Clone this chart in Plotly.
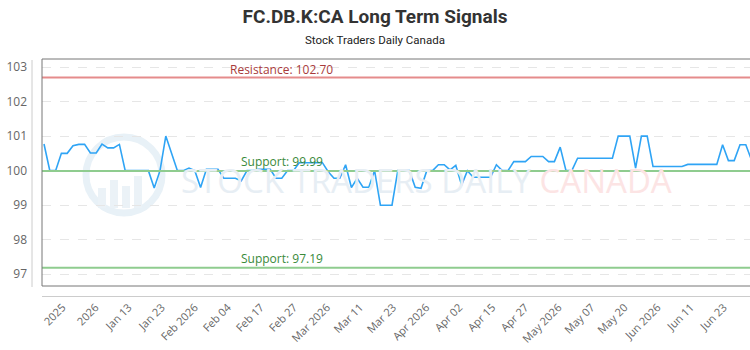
import plotly.graph_objects as go

# ---- data ----
values = [
    100.77, 100.0, 100.0, 100.5, 100.5, 100.72, 100.76, 100.76, 100.51, 100.51,
    100.77, 100.66, 100.66, 100.76, 100.0, 100.0, 100.0, 100.0, 100.0, 99.5,
    100.0, 101.0, 100.5, 100.0, 100.0, 100.07, 100.0, 99.51, 100.04, 100.04,
    100.04, 99.78, 99.78, 99.78, 99.7, 100.0, 100.0, 100.04, 100.04, 100.04,
    99.78, 99.78, 100.0, 100.0, 100.23, 100.23, 100.23, 100.23, 100.23, 99.97,
    99.78, 99.78, 100.17, 99.51, 99.78, 99.52, 99.52, 100.0, 99.0, 99.0,
    99.0, 100.0, 100.0, 100.0, 99.52, 99.49, 100.0, 100.0, 100.17, 100.17,
    100.02, 100.15, 99.58, 100.0, 99.81, 99.81, 99.81, 99.81, 100.17, 100.0,
    100.0, 100.26, 100.26, 100.26, 100.41, 100.41, 100.41, 100.26, 100.26, 100.68,
    100.0, 100.0, 100.36, 100.36, 100.36, 100.36, 100.36, 100.36, 100.36, 101.0,
    101.0, 101.0, 100.07, 101.0, 101.0, 100.12, 100.12, 100.12, 100.12, 100.12,
    100.12, 100.18, 100.18, 100.18, 100.18, 100.18, 100.18, 100.75, 100.29, 100.29,
    100.75, 100.75, 100.3,
]
tick_labels = ["2025", "2026", "Jan 13", "Jan 23", "Feb 2026", "Feb 04", "Feb 17",
               "Feb 27", "Mar 2026", "Mar 11", "Mar 23", "Apr 2026", "Apr 02",
               "Apr 15", "Apr 27", "May 2026", "May 07", "May 20", "Jun 2026",
               "Jun 11", "Jun 23"]
resistance = 102.70
supports = [99.99, 97.19]
y_ticks = [97, 98, 99, 100, 101, 102, 103]

x = list(range(len(values)))
tick_start, tick_step = 3.2, 5.7
tickvals = [tick_start + tick_step * k for k in range(len(tick_labels))]

fig = go.Figure()
fig.add_trace(go.Scatter(x=x, y=values, mode="lines",
                         line=dict(color="#2fa4f5", width=1.6),
                         hoverinfo="skip", showlegend=False))

W, H = 750, 350
L, R, T, B = 42, 0, 59, 64
pw, ph = W - L - R, H - T - B


def px(xp):
    return (xp - L) / pw


def py(yp):
    return (H - B - yp) / ph


shapes = []
# horizontal level lines
shapes.append(dict(type="line", xref="paper", yref="y", x0=0, x1=1,
                   y0=resistance, y1=resistance,
                   line=dict(color="#e58c8c", width=2)))
for s in supports:
    shapes.append(dict(type="line", xref="paper", yref="y", x0=0, x1=1,
                       y0=s, y1=s, line=dict(color="#8fcc8f", width=2)))
# plot border
shapes.append(dict(type="rect", xref="paper", yref="paper", x0=0, x1=1.2, y0=0, y1=1,
                   line=dict(color="#777777", width=1), layer="above"))
# offset axis lines
shapes.append(dict(type="line", xref="paper", yref="paper", x0=px(32), x1=px(32),
                   y0=py(287), y1=py(60), line=dict(color="#cccccc", width=1)))
shapes.append(dict(type="line", xref="paper", yref="paper", x0=0, x1=1.2,
                   y0=py(296.5), y1=py(296.5), line=dict(color="#cccccc", width=1)))
# watermark logo
shapes.append(dict(type="circle", xref="paper", yref="paper", x0=px(86), x1=px(162),
                   y0=py(213), y1=py(137), line=dict(color="#e8f1f7", width=7),
                   layer="below"))
for bx, top in [(98, 188), (110, 180), (122, 186), (134, 176)]:
    shapes.append(dict(type="rect", xref="paper", yref="paper", x0=px(bx), x1=px(bx + 8),
                       y0=py(208), y1=py(top), line=dict(width=0),
                       fillcolor="#ebf2f7", layer="below"))

annotations = [
    dict(text="<span style='color:#e7eef4'>STOCK TRADERS DAILY</span> "
              "<span style='color:#fce4e4'>CANADA</span>",
         xref="paper", yref="paper", x=px(427), y=py(180), showarrow=False,
         font=dict(family="Open Sans", size=33), xanchor="center", yanchor="middle"),
    dict(text=f"Resistance: {resistance:.2f}", xref="paper", yref="y", x=px(281),
         y=resistance, yshift=8, showarrow=False,
         font=dict(family="Open Sans", size=12, color="#a83a3a")),
]
for s in supports:
    annotations.append(dict(text=f"Support: {s:.2f}", xref="paper", yref="y", x=px(282),
                            y=s, yshift=9, showarrow=False,
                            font=dict(family="Open Sans", size=12, color="#3a8a3a")))

fig.update_layout(
    width=W, height=H,
    margin=dict(l=L, r=R, t=T, b=B),
    paper_bgcolor="white", plot_bgcolor="white",
    title=dict(text="<b>FC.DB.K:CA Long Term Signals</b>", x=px(375), xref="paper",
               xanchor="center", y=1 - 16 / H, yanchor="middle",
               font=dict(family="Roboto", size=19, color="#333333")),
    shapes=shapes,
    annotations=annotations + [
        dict(text="Stock Traders Daily Canada", xref="paper", yref="paper",
             x=px(375), y=py(40), xanchor="center", yanchor="middle", showarrow=False,
             font=dict(family="Roboto", size=11.5, color="#222222"))],
    xaxis=dict(range=[-0.345, (W - 44) / 5.8], tickmode="array",
               tickvals=tickvals, ticktext=tick_labels, tickangle=-45,
               showgrid=False, zeroline=False, showline=False, ticks="",
               ticklabelstandoff=12,
               tickfont=dict(family="Open Sans", size=11, color="#666666")),
    yaxis=dict(range=[96.66, 103.232], tickmode="array", tickvals=y_ticks,
               showgrid=True, gridcolor="#e6e6e6", griddash="dash", gridwidth=1,
               zeroline=False, showline=False, ticks="", ticklabelstandoff=14,
               tickfont=dict(family="Open Sans", size=12, color="#666666")),
)

fig.write_html("out.html")
